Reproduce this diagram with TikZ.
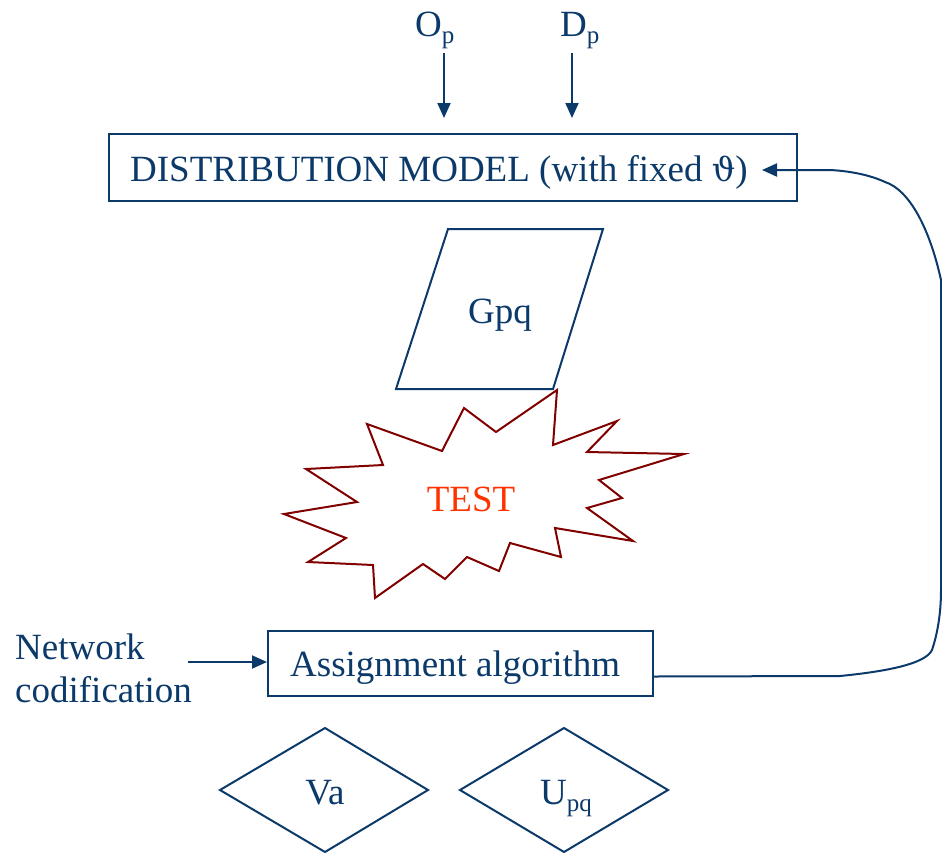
\documentclass[tikz,border=0pt]{standalone}
\usepackage{fontspec}
\setmainfont{Liberation Serif}
\newfontfamily\thetafont{DejaVu Serif}
\usetikzlibrary{arrows.meta}
\definecolor{navy}{HTML}{0B3A6A}
\definecolor{burst}{HTML}{800000}
\definecolor{testc}{HTML}{FF3300}
\newcommand{\bigf}{\fontsize{37}{42}\selectfont}
\newcommand{\subf}[1]{\raisebox{-7pt}{\fontsize{25}{25}\selectfont #1}}
\tikzset{
  lbl/.style={text=navy, font=\bigf, inner sep=0pt, anchor=base west},
  frame/.style={draw=navy, line width=2pt, inner sep=0pt},
  arr/.style={draw=navy, line width=2pt, -{Triangle[length=15pt,width=13pt]}},
}
\begin{document}
\begin{tikzpicture}[x=1pt,y=-1pt]
\useasboundingbox (0,0) rectangle (942,852);
% top inputs
\node[lbl] (op) at (415,36) {O\subf{p}};
\node[lbl] (dp) at (560,36) {D\subf{p}};
\coordinate (opa) at (444,53);
\coordinate (opb) at (444,118);
\coordinate (dpa) at (572,53);
\coordinate (dpb) at (572,118);
\draw[arr] (opa) -- (opb);
\draw[arr] (dpa) -- (dpb);
% distribution model
\node[frame, minimum width=688pt, minimum height=67pt, anchor=north west] (dm) at (108,133) {};
\node[lbl] (dmt) at (130,181) {DISTRIBUTION MODEL (with fixed {\thetafont\fontsize{33}{40}\selectfont ϑ})};
% Gpq parallelogram
\draw[navy, line width=2pt, line join=miter] (448,229) -- (603,229) -- (553,389) -- (396,389) -- cycle;
\node[text=navy, font=\bigf, inner sep=0pt, anchor=base] (gpq) at (500,323) {Gpq};
% starburst
\draw[burst, line width=2pt, line join=miter] (557,390) -- (553,445) -- (617,421) -- (587,452) -- (684,454) -- (599,480) -- (622,498) -- (587,508) -- (633,541) -- (555,528) -- (561,557) -- (510,543) -- (499,571) -- (467,557) -- (445,579) -- (423,564) -- (375,598) -- (373,565) -- (308,562) -- (346,538) -- (284,514) -- (357,502) -- (306,469) -- (383,465) -- (367,424) -- (442,451) -- (464,408) -- (496,432) -- cycle;
\node[text=testc, font=\bigf, inner sep=0pt, anchor=base] (test) at (471,511) {TEST};
% assignment
\node[frame, minimum width=385pt, minimum height=65pt, anchor=north west] (asg) at (267,630) {};
\node[lbl] (asgt) at (290,676) {Assignment algorithm};
% network codification
\node[lbl] (net1) at (15,659) {Network};
\node[lbl] (net2) at (15,702) {codification};
\coordinate (na) at (188,662);
\draw[arr] (na) -- (asg.west |- na);
% feedback loop
\coordinate (fb) at (762,170);
\draw[arr] ([yshift=-13pt]asg.east) -- (840,676) .. controls (880,672) and (925,665) .. (932,650) .. controls (937,635) and (941,615) .. (941,590) -- (941,280) .. controls (930,230) and (910,190) .. (885,182) .. controls (870,175) and (850,171) .. (830,170) -- (fb);
% diamonds
\draw[navy, line width=2pt] (220,790) -- (325,728) -- (428,790) -- (325,852) -- cycle;
\draw[navy, line width=2pt] (460,790) -- (564,728) -- (668,790) -- (564,852) -- cycle;
\node[text=navy, font=\bigf, inner sep=0pt, anchor=base] (va) at (325,804) {Va};
\node[lbl] (upq) at (540,804) {U\subf{pq}};
\end{tikzpicture}
\end{document}
